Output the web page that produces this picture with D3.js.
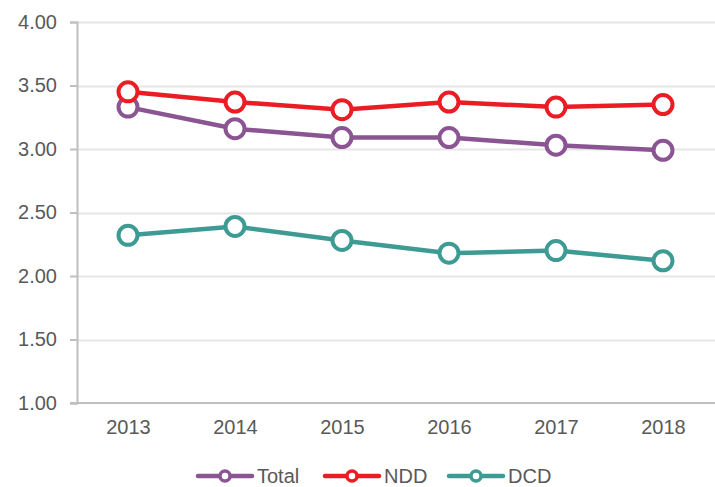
<!DOCTYPE html>
<html>
<head>
<meta charset="utf-8">
<script src="https://cdn.jsdelivr.net/npm/d3@7"></script>
<style>
  body { margin: 0; background: #fff; }
  text { font-family: "Liberation Sans", Arial, sans-serif; }
</style>
</head>
<body>
<div id="chart"></div>
<script>
const years = ["2013", "2014", "2015", "2016", "2017", "2018"];
const totalValues = [3.33, 3.16, 3.09, 3.09, 3.03, 2.99];
const nddValues = [3.45, 3.37, 3.31, 3.37, 3.33, 3.35];
const dcdValues = [2.32, 2.39, 2.28, 2.18, 2.20, 2.12];
const yTicks = [1.00, 1.50, 2.00, 2.50, 3.00, 3.50, 4.00];

const series = [
    { name: "Total", values: totalValues, color: "#8a5592" },
    { name: "NDD", values: nddValues, color: "#ec1c24" },
    { name: "DCD", values: dcdValues, color: "#3d9b94" }
];

const width = 715;
const height = 487;
const margin = { top: 22, right: 0, bottom: 84, left: 77 };
const fontSize = "20px";

const svg = d3.select("#chart")
    .append("svg")
    .attr("width", width)
    .attr("height", height);

const x = d3.scalePoint()
    .domain(years)
    .range([margin.left + 51, width - margin.right - 52]);

const y = d3.scaleLinear()
    .domain([1, 4])
    .range([height - margin.bottom, margin.top]);

// gridlines
svg.append("g")
    .selectAll("line")
    .data(yTicks.slice(1))
    .enter()
    .append("line")
    .attr("x1", margin.left)
    .attr("x2", width)
    .attr("y1", d => Math.round(y(d)) + 0.5)
    .attr("y2", d => Math.round(y(d)) + 0.5)
    .style("stroke", "#e6e6e6")
    .style("stroke-width", 2);

// y axis
const yAxis = svg.append("g")
    .attr("transform", `translate(${margin.left},0)`)
    .call(d3.axisLeft(y).tickValues(yTicks).tickFormat(d3.format(".2f")).tickSize(7).tickPadding(13));
yAxis.select(".domain").style("stroke", "#bfbfbf").style("stroke-width", 2);
yAxis.selectAll(".tick line").style("stroke", "#bfbfbf").style("stroke-width", 2);
yAxis.selectAll("text")
    .style("font-size", fontSize)
    .style("fill", "#595959");

// x axis
const xAxis = svg.append("g")
    .attr("transform", `translate(0,${y(1)})`)
    .call(d3.axisBottom(x).tickSize(0).tickPadding(17));
xAxis.select(".domain").remove();
xAxis.append("line")
    .attr("x1", margin.left - 7)
    .attr("x2", width)
    .style("stroke", "#bfbfbf")
    .style("stroke-width", 2);
xAxis.selectAll("text")
    .style("font-size", fontSize)
    .style("fill", "#595959");

const line = d3.line()
    .x((d, i) => x(years[i]))
    .y(d => y(d));

series.forEach(s => {
    const g = svg.append("g");
    g.append("path")
        .attr("d", line(s.values))
        .attr("fill", "none")
        .style("stroke", s.color)
        .style("stroke-width", 4.5);
    g.selectAll("circle")
        .data(s.values)
        .enter()
        .append("circle")
        .attr("cx", (d, i) => x(years[i]))
        .attr("cy", d => y(d))
        .attr("r", 9.5)
        .attr("fill", "#fff")
        .style("stroke", s.color)
        .style("stroke-width", 4);
});

// legend
const legendX = [198, 325, 449];
const legendY = 476;
const legend = svg.append("g");
series.forEach((s, i) => {
    const lg = legend.append("g").attr("transform", `translate(${legendX[i]},${legendY})`);
    lg.append("line")
        .attr("x1", 0).attr("x2", 54)
        .style("stroke", s.color)
        .style("stroke-width", 4.5)
        .style("stroke-linecap", "round");
    lg.append("circle")
        .attr("cx", 27).attr("r", 5)
        .attr("fill", "#fff")
        .style("stroke", s.color)
        .style("stroke-width", 3.5);
    lg.append("text")
        .attr("x", 59)
        .attr("dy", "0.35em")
        .style("font-size", fontSize)
        .style("fill", "#595959")
        .text(s.name);
});
</script>
</body>
</html>
